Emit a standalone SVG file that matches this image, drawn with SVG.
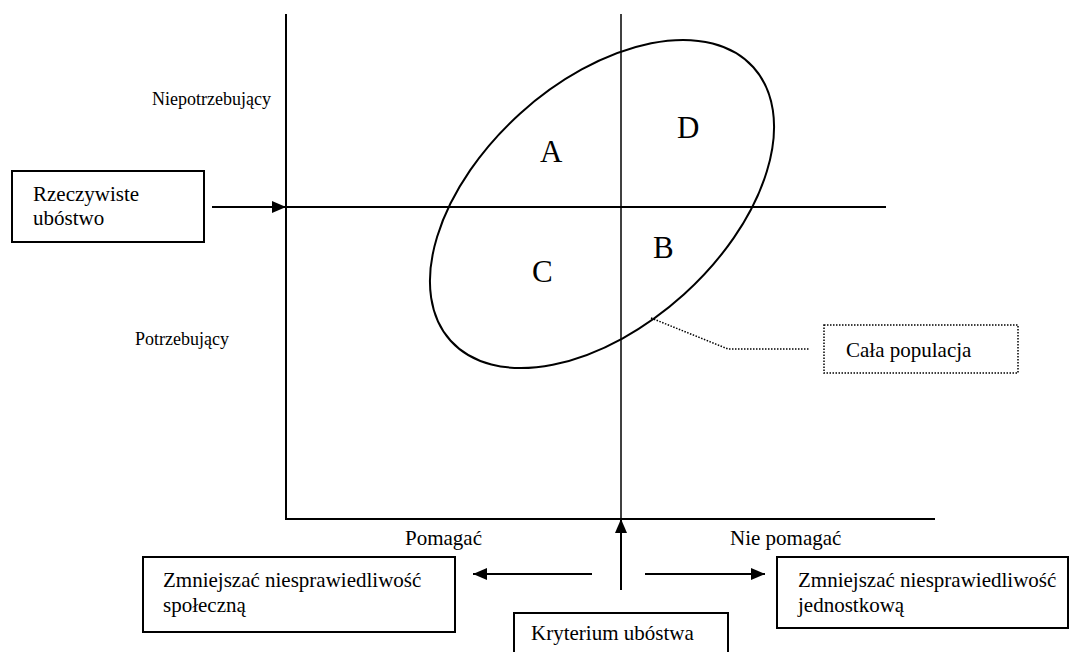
<svg xmlns="http://www.w3.org/2000/svg" width="1077" height="652" viewBox="0 0 1077 652">
<style>
text{font-family:"Liberation Serif","Times New Roman",serif;font-size:21px;fill:#000}
.big{font-size:31px}
.side{font-size:18px}
.ln{stroke:#000;stroke-width:2;fill:none}
.thin{stroke:#000;stroke-width:1.5;fill:none}
.box{fill:#fff;stroke:#000;stroke-width:2}
.dot{fill:none;stroke:#000;stroke-width:1.5;stroke-dasharray:1.5 1.5}
</style>
<defs>
<marker id="ah" viewBox="0 0 14 12" refX="14" refY="6" markerWidth="14" markerHeight="12" markerUnits="userSpaceOnUse" orient="auto">
<path d="M0,0 L14,6 L0,12 z" fill="#000"/>
</marker>
</defs>
<g id="axes">
<line class="ln" x1="286" y1="14" x2="286" y2="519"/>
<line class="ln" x1="285" y1="519" x2="935" y2="519"/>
<line class="thin" x1="621" y1="14" x2="621" y2="519"/>
<line class="ln" x1="286" y1="207" x2="886" y2="207"/>
</g>
<g id="ellipse">
<ellipse cx="602" cy="204" rx="204" ry="122" transform="rotate(-42.1 602 204)" class="ln"/>
</g>
<g id="labels">
<text class="side" x="152" y="105">Niepotrzebujący</text>
<text class="side" x="135" y="345">Potrzebujący</text>
<text x="405" y="545">Pomagać</text>
<text x="730" y="545">Nie pomagać</text>
<text class="big" x="540" y="162">A</text>
<text class="big" x="677" y="138">D</text>
<text class="big" x="653" y="258">B</text>
<text class="big" x="532" y="282">C</text>
</g>
<g id="node-rzeczywiste">
<rect class="box" x="12" y="171" width="192" height="71"/>
<text x="33" y="201">Rzeczywiste</text>
<text x="33" y="225">ubóstwo</text>
</g>
<g id="node-populacja">
<rect class="dot" x="824" y="325" width="194" height="48"/>
<text x="846" y="357">Cała populacja</text>
</g>
<g id="node-spoleczna">
<rect class="box" x="143" y="557" width="312" height="75"/>
<text x="163" y="587">Zmniejszać niesprawiedliwość</text>
<text x="163" y="612">społeczną</text>
</g>
<g id="node-jednostkowa">
<rect class="box" x="777" y="557" width="291" height="71"/>
<text x="798" y="587">Zmniejszać niesprawiedliwość</text>
<text x="798" y="612">jednostkową</text>
</g>
<g id="node-kryterium">
<rect class="box" x="514" y="613" width="214" height="45"/>
<text x="531" y="640">Kryterium ubóstwa</text>
</g>
<g id="connectors">
<line class="ln" x1="212" y1="207" x2="286" y2="207" marker-end="url(#ah)"/>
<line class="ln" x1="621" y1="590" x2="621" y2="519" marker-end="url(#ah)"/>
<line class="ln" x1="592" y1="574" x2="473" y2="574" marker-end="url(#ah)"/>
<line class="ln" x1="645" y1="574" x2="765" y2="574" marker-end="url(#ah)"/>
<polyline class="dot" points="651,318 728,349 810,349"/>
</g>
</svg>
